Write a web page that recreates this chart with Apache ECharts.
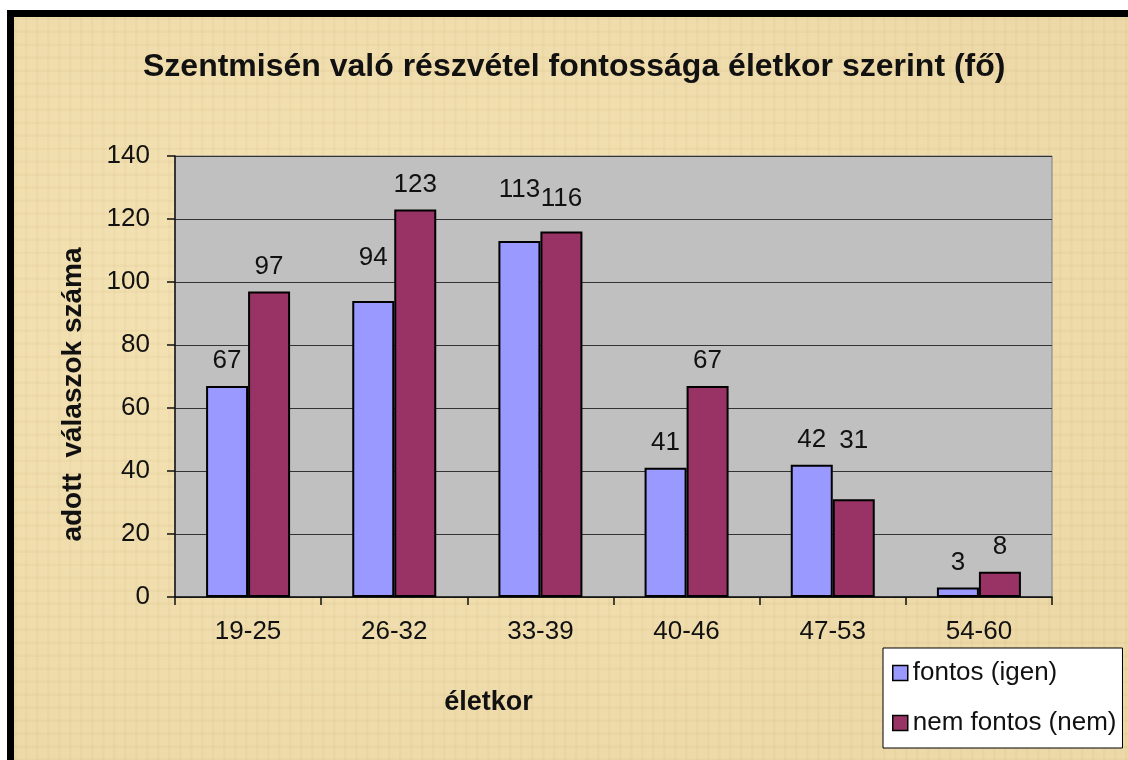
<!DOCTYPE html>
<html>
<head>
<meta charset="utf-8">
<title>Szentmisén való részvétel fontossága életkor szerint</title>
<script src="https://cdn.jsdelivr.net/npm/echarts@6/dist/echarts.min.js"></script>
<style>
    html, body {
        margin: 0;
        padding: 0;
        width: 1128px;
        height: 760px;
        overflow: hidden;
        background: #ffffff;
    }
    /* papirusz jellegű háttér, fekete kerettel */
    .frame {
        position: absolute;
        left: 7px;
        top: 10px;
        width: 1140px;
        height: 770px;
        border-left: 7px solid #000;
        border-top: 7px solid #000;
        background-color: #ecd8a6;
        background-image:
            repeating-linear-gradient(90deg, rgba(190, 160, 100, 0.06) 0px, rgba(190, 160, 100, 0.06) 2px, rgba(255, 240, 200, 0.05) 3px, rgba(255, 240, 200, 0.05) 11px),
            repeating-linear-gradient(0deg, rgba(180, 150, 90, 0.06) 0px, rgba(180, 150, 90, 0.06) 2px, rgba(255, 245, 210, 0.05) 3px, rgba(255, 245, 210, 0.05) 13px),
            radial-gradient(ellipse at 30% 40%, rgba(250, 234, 190, 0.55), rgba(228, 205, 150, 0.15) 75%);
    }
    #chart {
        position: absolute;
        left: 0;
        top: 0;
        width: 1128px;
        height: 760px;
    }
</style>
</head>
<body>
<div class="frame"></div>
<div id="chart"></div>
<script>
// életkor csoportok
const categories = ['19-25', '26-32', '33-39', '40-46', '47-53', '54-60'];
// fontos (igen)
const fontosValues = [67, 94, 113, 41, 42, 3];
// nem fontos (nem)
const nemFontosValues = [97, 123, 116, 67, 31, 8];
// y tengely
const yMin = 0;
const yMax = 140;
const yStep = 20;

// címkék extra emelése (Excel elrendezés utánzása)
const fontosLift = [0, 18, 26, 0, 0, 0];
const nemFontosLift = [0, 0, 8, 0, 34, 0];

document.addEventListener('DOMContentLoaded', function () {
    initChart();
});

function withLift(values, lift) {
    return values.map(function (v, i) {
        return {
            value: v,
            label: { offset: [0, -lift[i]] }
        };
    });
}

function initChart() {
    const chartDom = document.getElementById('chart');
    const myChart = echarts.init(chartDom);

    const font = 'Liberation Sans, Arial, sans-serif';

    const barLabel = {
        show: true,
        position: 'top',
        distance: 12,
        color: '#111',
        fontSize: 26,
        fontFamily: font
    };

    const option = {
        backgroundColor: 'transparent',
        animation: false,
        title: {
            text: 'Szentmisén való részvétel fontossága életkor szerint (fő)',
            left: 138,
            top: 46,
            textStyle: {
                color: '#111',
                fontSize: 32,
                fontWeight: 'bold',
                fontFamily: font
            }
        },
        legend: {
            orient: 'vertical',
            left: 883,
            top: 648,
            padding: [12, 6, 12, 9],
            itemGap: 24,
            itemWidth: 15,
            itemHeight: 15,
            icon: 'rect',
            backgroundColor: '#ffffff',
            borderColor: '#000',
            borderWidth: 1,
            itemStyle: {
                borderColor: '#000',
                borderWidth: 1.5
            },
            textStyle: {
                color: '#111',
                fontSize: 26,
                fontFamily: font
            },
            data: ['fontos (igen)', 'nem fontos (nem)']
        },
        grid: {
            left: 175,
            right: 76,
            top: 156,
            bottom: 163,
            show: true,
            backgroundColor: '#c0c0c0',
            borderColor: '#808080',
            borderWidth: 1
        },
        xAxis: {
            type: 'category',
            data: categories,
            name: 'életkor',
            nameLocation: 'middle',
            nameGap: 92,
            nameTextStyle: {
                color: '#111',
                fontSize: 27,
                fontWeight: 'bold',
                fontFamily: font,
                padding: [0, 250, 0, 0]
            },
            axisLine: {
                show: true,
                lineStyle: { color: '#111', width: 1.5 }
            },
            axisTick: {
                show: true,
                length: 8,
                lineStyle: { color: '#111', width: 1.5 }
            },
            axisLabel: {
                color: '#111',
                fontSize: 26,
                fontFamily: font,
                margin: 22
            }
        },
        yAxis: {
            type: 'value',
            min: yMin,
            max: yMax,
            interval: yStep,
            name: 'adott  válaszok száma',
            nameLocation: 'middle',
            nameGap: 88,
            nameTextStyle: {
                color: '#111',
                fontSize: 28,
                fontWeight: 'bold',
                fontFamily: font,
                padding: [0, 36, 0, 0]
            },
            axisLine: {
                show: true,
                lineStyle: { color: '#111', width: 1.5 }
            },
            axisTick: {
                show: true,
                length: 8,
                lineStyle: { color: '#111', width: 1.5 }
            },
            axisLabel: {
                color: '#111',
                fontSize: 26,
                fontFamily: font,
                margin: 25
            },
            splitLine: {
                show: true,
                lineStyle: { color: '#333', width: 1.2 }
            }
        },
        series: [
            {
                name: 'fontos (igen)',
                type: 'bar',
                barWidth: 42,
                barGap: '0%',
                data: withLift(fontosValues, fontosLift),
                itemStyle: {
                    color: '#9999ff',
                    borderColor: '#000',
                    borderWidth: 2
                },
                label: barLabel
            },
            {
                name: 'nem fontos (nem)',
                type: 'bar',
                barWidth: 42,
                barGap: '0%',
                data: withLift(nemFontosValues, nemFontosLift),
                itemStyle: {
                    color: '#993366',
                    borderColor: '#000',
                    borderWidth: 2
                },
                label: barLabel
            }
        ]
    };

    myChart.setOption(option);

    window.addEventListener('resize', function () {
        myChart.resize();
    });
}
</script>
</body>
</html>
